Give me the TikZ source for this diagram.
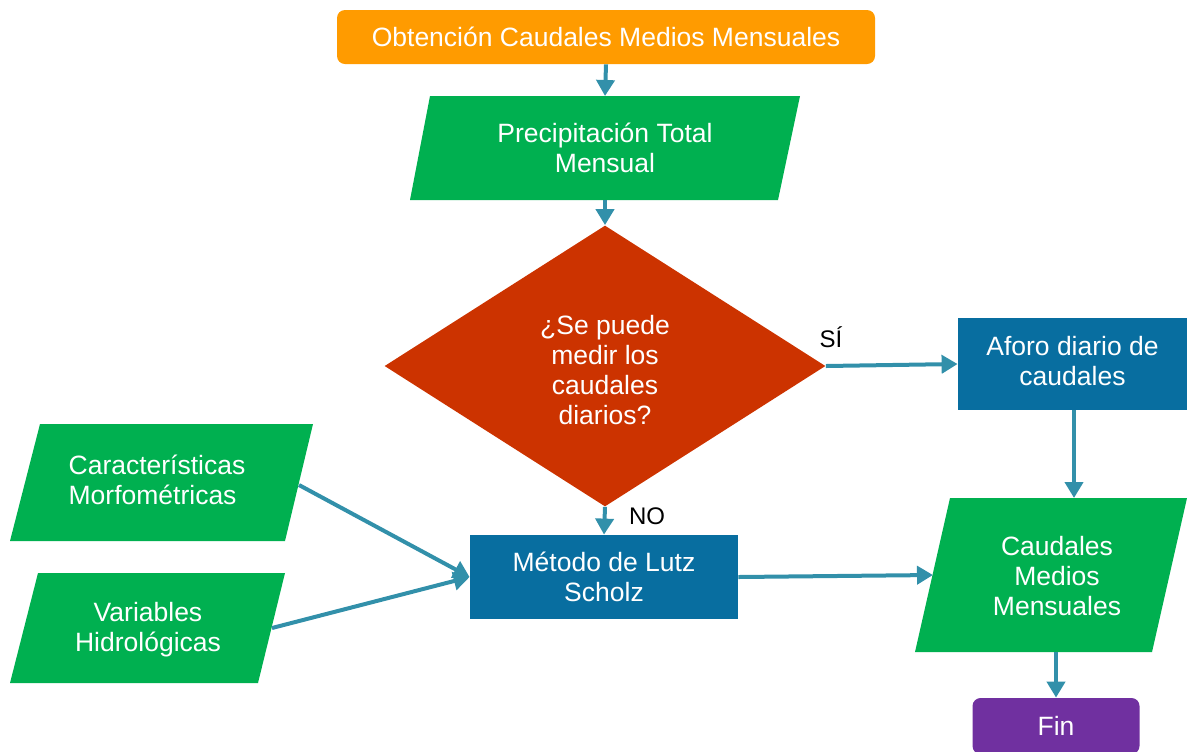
\documentclass[tikz,border=0pt]{standalone}
\usepackage{fontspec}
\setmainfont{Liberation Sans}
\usetikzlibrary{arrows.meta,shapes.geometric}
\definecolor{corange}{RGB}{255,155,0}
\definecolor{cgreen}{RGB}{0,176,80}
\definecolor{cred}{RGB}{204,51,0}
\definecolor{cblue}{RGB}{8,110,160}
\definecolor{cpurple}{RGB}{112,48,160}
\definecolor{carrow}{RGB}{50,144,170}
\begin{document}
\begin{tikzpicture}[x=0.5pt,y=-0.5pt,
  txt/.style={text=white, font=\fontsize{13.25}{15}\selectfont, align=center, inner sep=0pt},
  conn/.style={draw=carrow, line width=2pt, -{Triangle[length=8pt,width=9pt]}},
  lbl/.style={text=black, font=\fontsize{12}{14}\selectfont, inner sep=0pt}]
\useasboundingbox (0,0) rectangle (1187,751);

% rectangles / rounded boxes
\node[txt, fill=corange, rounded corners=4pt, minimum width=269pt, minimum height=27pt] (start) at (606,37) {Obtención Caudales Medios Mensuales};
\node[txt, fill=cblue, minimum width=114.5pt, minimum height=46pt, text depth=3pt] (aforo) at (1072.5,364) {Aforo diario de\\caudales};
\node[txt, fill=cblue, minimum width=134pt, minimum height=42pt] (lutz) at (604,577) {Método de Lutz\\Scholz};
\node[txt, fill=cpurple, rounded corners=4pt, minimum width=83.5pt, minimum height=28pt] (fin) at (1056,726) {Fin};

% decision
\node[txt, shape=diamond, aspect=1.57, fill=cred, minimum width=220.5pt, minimum height=140.5pt] (dec) at (605,366) {};
\node[txt] (dectext) at (605,370) {¿Se puede\\medir los\\caudales\\diarios?};

% parallelograms
\fill[cgreen] (430,96) -- (800,96) -- (778,200) -- (410,200) -- cycle;
\node[txt] (precip) at (605,148) {Precipitación Total\\Mensual};
\coordinate (precipT) at (605,96);
\coordinate (precipB) at (605,200);

\fill[cgreen] (40,424) -- (313,424) -- (285,541) -- (10,541) -- cycle;
\node[txt, align=left] (morf) at (157,480) {Características\\Morfométricas};
\coordinate (morfR) at (299,485);

\fill[cgreen] (38,573) -- (285,573) -- (258,683) -- (10,683) -- cycle;
\node[txt] (hidro) at (148,630) {Variables\\Hidrológicas};
\coordinate (hidroR) at (272,628);

\fill[cgreen] (950,498) -- (1187,498) -- (1152,652) -- (915,652) -- cycle;
\node[txt] (qmm) at (1057,576) {Caudales\\Medios\\Mensuales};
\coordinate (qmmT) at (1074,498);
\coordinate (qmmL) at (933,575);
\coordinate (qmmB) at (1056,652);

% connectors
\draw[conn] (start.south) -- (precipT);
\draw[conn] (precipB) -- (dec.north);
\draw[conn] (dec.east) -- (aforo.west);
\draw[conn] (aforo.south -| qmmT) -- (qmmT);
\draw[conn] (dec.south) -- (lutz.north);
\draw[conn] (lutz.east) -- (qmmL);
\draw[conn] (morfR) -- (lutz.west);
\draw[conn] (hidroR) -- (lutz.west);
\draw[conn] (qmmB) -- (fin.north);

% labels
\node[lbl] (si) at (831,337) {SÍ};
\node[lbl] (no) at (647,516) {NO};
\end{tikzpicture}
\end{document}
